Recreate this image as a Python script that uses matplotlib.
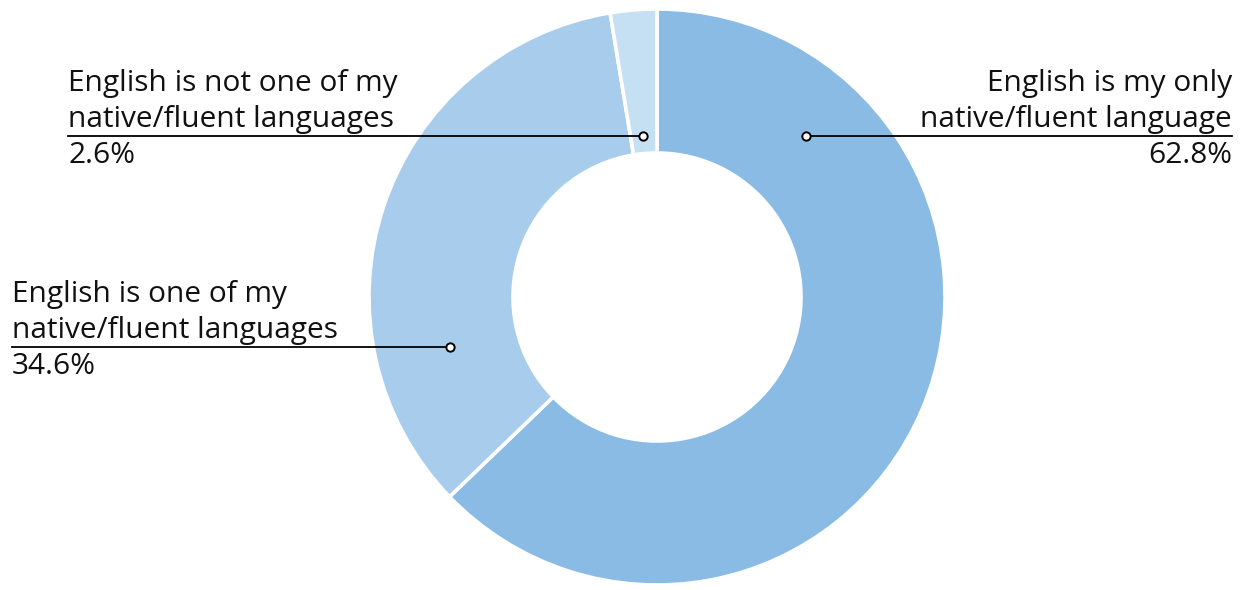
import matplotlib

matplotlib.use("Agg")
import matplotlib.pyplot as plt

labels = [
    "English is my only\nnative/fluent language",
    "English is one of my\nnative/fluent languages",
    "English is not one of my\nnative/fluent languages",
]
shares = [62.8, 34.6, 2.6]
colors = ["#8abbe5", "#a8cdec", "#c5dff3"]

WIDTH, HEIGHT = 1244, 590
CENTER = (657, HEIGHT - 297)
RADIUS = 288

# callout layout in pixel space: anchor dot, line end, text side
callouts = [
    {"dot": (806, 136), "end": 1232, "ha": "right"},
    {"dot": (450, 347), "end": 12, "ha": "left"},
    {"dot": (643, 136), "end": 68, "ha": "left"},
]

plt.rcParams["font.family"] = ["Open Sans", "DejaVu Sans"]

fig = plt.figure(figsize=(WIDTH / 100, HEIGHT / 100), dpi=100)
ax = fig.add_axes([0, 0, 1, 1])

ax.pie(
    shares,
    colors=colors,
    startangle=90,
    counterclock=False,
    center=CENTER,
    radius=RADIUS,
    frame=True,
    wedgeprops={"width": RADIUS * 0.5, "edgecolor": "white", "linewidth": 2.6},
)
ax.set_xlim(0, WIDTH)
ax.set_ylim(0, HEIGHT)
ax.set_aspect("equal")
ax.axis("off")

for label, share, spec in zip(labels, shares, callouts):
    dx, dy = spec["dot"]
    y = HEIGHT - dy
    ax.plot([spec["end"], dx], [y, y], color="black", linewidth=1.3, zorder=3)
    ax.plot(dx, y, "o", markersize=6, markerfacecolor="white",
            markeredgecolor="black", markeredgewidth=1.4, zorder=4)
    ax.text(spec["end"], y + 2, label, ha=spec["ha"], va="bottom",
            fontsize=21.5, linespacing=1.3, color="#111111")
    ax.text(spec["end"], y - 5, f"{share:.1f}%", ha=spec["ha"], va="top",
            fontsize=21.5, color="#111111")

fig.savefig("out.png", dpi=100, facecolor="white")
